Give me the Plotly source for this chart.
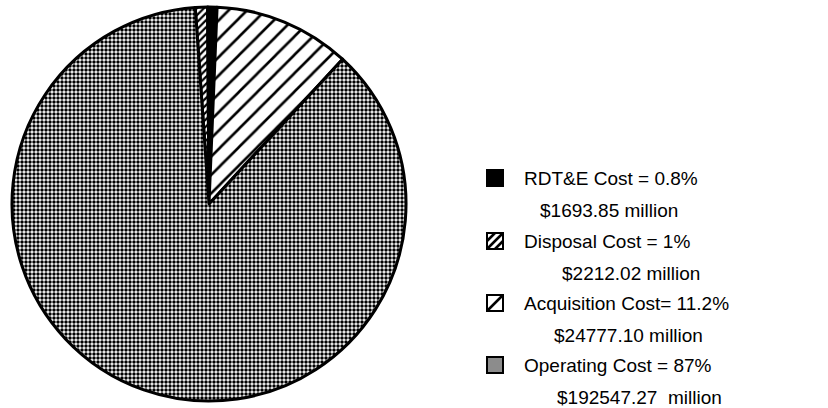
import plotly.graph_objects as go

# Life-cycle cost breakdown (millions of dollars), in clockwise slice order
slice_labels = ["Disposal Cost", "RDT&E Cost", "Acquisition Cost", "Operating Cost"]
slice_costs = [2212.02, 1693.85, 24777.10, 192547.27]

# Legend text, in legend order
legend_titles = ["RDT&E Cost = 0.8%", "Disposal Cost = 1%",
                 "Acquisition Cost= 11.2%", "Operating Cost = 87%"]
legend_amounts = ["$1693.85 million", "$2212.02 million",
                  "$24777.10 million", "$192547.27\u00a0\u00a0million"]

W, H = 828, 408
FONT = "Liberation Sans, Arial, Helvetica, sans-serif"

fills = {
    "Disposal Cost": dict(shape="/", fgcolor="black", bgcolor="white", size=5, solidity=0.45),
    "RDT&E Cost": dict(shape="", fgcolor="black", bgcolor="black"),
    "Acquisition Cost": dict(shape="/", fgcolor="black", bgcolor="white", size=13, solidity=0.2),
    "Operating Cost": dict(shape=".", fgcolor="black", bgcolor="white", size=4, solidity=0.6),
}
colors = ["black" if l == "RDT&E Cost" else "white" for l in slice_labels]

cx, cy, r = 209, 204, 197

fig = go.Figure()
fig.add_trace(go.Pie(
    labels=slice_labels,
    values=slice_costs,
    sort=False,
    direction="clockwise",
    rotation=-4,
    textinfo="none",
    hoverinfo="label+value+percent",
    showlegend=False,
    marker=dict(
        colors=colors,
        line=dict(color="black", width=3),
        pattern=dict(
            shape=[fills[l]["shape"] for l in slice_labels],
            fgcolor=[fills[l]["fgcolor"] for l in slice_labels],
            bgcolor=[fills[l]["bgcolor"] for l in slice_labels],
            size=[fills[l].get("size", 8) for l in slice_labels],
            solidity=[fills[l].get("solidity", 0.3) for l in slice_labels],
        ),
    ),
    domain=dict(x=[(cx - r) / W, (cx + r) / W],
                y=[(H - cy - r) / H, (H - cy + r) / H]),
))

# Legend drawn in pixel coordinates on a hidden axis
shapes = []
annotations = []
sw_x, sw = 487, 16
row_y = [178, 241, 303, 365]
amount_x = [538, 560, 552, 555]
amount_dy = 32


def hatch(x0, y0, s, offsets, width):
    """'/' hatch lines v = u + d inside an s-by-s square (u right, v up)."""
    segs = []
    for d in offsets:
        u1, u2 = max(0.0, -d), min(s, s - d)
        if u2 <= u1:
            continue
        segs.append(dict(type="line", xref="x", yref="y",
                         x0=x0 + u1, y0=y0 + s - (u1 + d),
                         x1=x0 + u2, y1=y0 + s - (u2 + d),
                         line=dict(color="black", width=width)))
    return segs


swatch_style = {
    0: ("black", []),
    1: ("white", [-0.5, 0.0, 0.5]),
    2: ("white", [0.0]),
    3: ("#8c8c8c", []),
}
for i, (title, amount) in enumerate(zip(legend_titles, legend_amounts)):
    y = row_y[i]
    y0 = y - sw / 2
    fill, offs = swatch_style[i]
    shapes.append(dict(type="rect", xref="x", yref="y",
                       x0=sw_x, x1=sw_x + sw, y0=y0, y1=y0 + sw,
                       fillcolor=fill, line=dict(color="black", width=2)))
    shapes += hatch(sw_x, y0, sw, [o * sw for o in offs], 2.5)
    annotations.append(dict(x=522, y=y, xref="x", yref="y", text=title,
                            showarrow=False, xanchor="left", yanchor="middle",
                            font=dict(family=FONT, size=19, color="black")))
    annotations.append(dict(x=amount_x[i], y=y + amount_dy, xref="x", yref="y",
                            text=amount, showarrow=False,
                            xanchor="left", yanchor="middle",
                            font=dict(family=FONT, size=19, color="black")))

fig.update_layout(
    width=W, height=H,
    margin=dict(l=0, r=0, t=0, b=0),
    paper_bgcolor="white", plot_bgcolor="rgba(0,0,0,0)",
    xaxis=dict(range=[0, W], visible=False, domain=[0, 1], fixedrange=True),
    yaxis=dict(range=[H, 0], visible=False, domain=[0, 1], fixedrange=True),
    shapes=shapes, annotations=annotations,
    showlegend=False,
)

fig.write_html("out.html")
